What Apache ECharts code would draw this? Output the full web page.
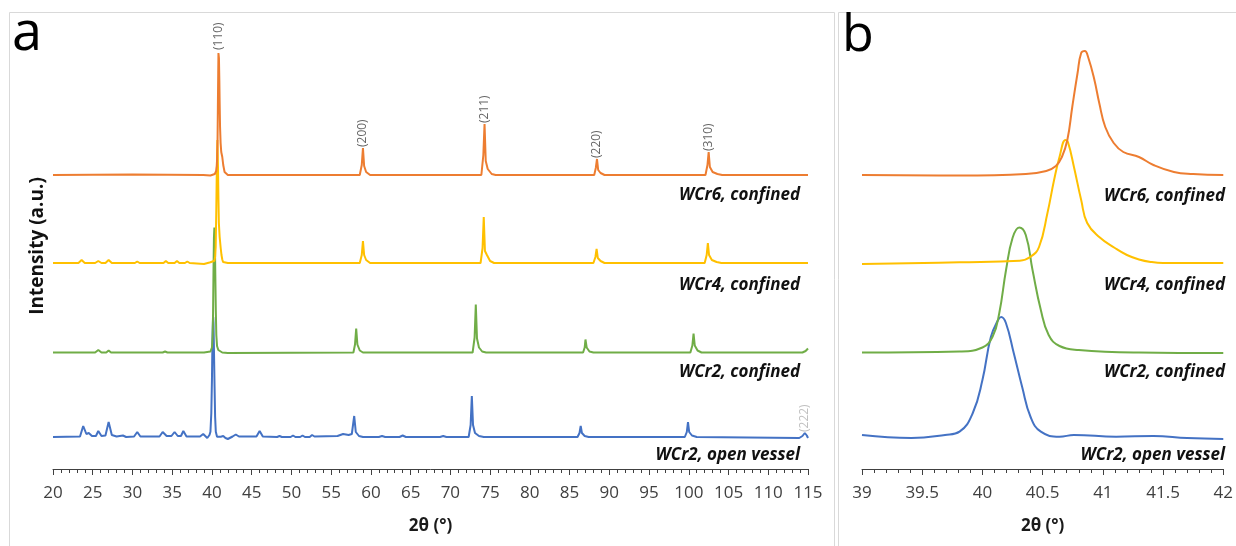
<!DOCTYPE html>
<html>
<head>
<meta charset="utf-8">
<script src="https://cdn.jsdelivr.net/npm/echarts@6/dist/echarts.min.js"></script>
<style>
html,body{margin:0;padding:0;background:#fff;}
#chart{width:1236px;height:546px;}
</style>
</head>
<body>
<div id="chart"></div>
<script>
// ---- Data (2θ in degrees, intensity in a.u. above each pattern's own baseline) ----
var seriesNames = ['WCr2, open vessel', 'WCr2, confined', 'WCr4, confined', 'WCr6, confined'];
var seriesColors = ['#4472C4', '#70AD47', '#FFC000', '#ED7D31'];
// vertical stacking offsets of each pattern (a.u.)
var offsets = [32, 116.5, 206, 294];

// Zoomed (110) region, 39–42°
var wcr2OpenMain = [[39.0,2],[39.41,-1],[39.69,2],[39.81,5.3],[39.92,24],[40.0,57],[40.07,100],[40.13,117],[40.155,120],[40.195,114],[40.26,84],[40.33,50],[40.40,20],[40.485,5.3],[40.64,0.3],[40.76,2],[41.11,0.3],[41.42,1],[41.7,-1],[42.0,-2]];
var wcr2ConfMain = [[39.0,0],[39.81,1],[40.0,5],[40.085,16],[40.14,39.5],[40.196,82.5],[40.25,114.5],[40.306,125],[40.36,117.5],[40.416,82.5],[40.485,42.5],[40.55,17.5],[40.64,6.5],[40.8,2.5],[41.3,0],[42.0,-0.5]];
var wcr4ConfMain = [[39.0,-1],[39.81,0.7],[40.31,2.3],[40.40,6.3],[40.47,16],[40.54,50],[40.595,83],[40.64,106],[40.69,123],[40.71,121],[40.76,96],[40.82,63],[40.87,40],[40.97,26],[41.10,15],[41.20,8],[41.30,3.5],[41.40,1],[41.5,0],[42.0,0]];
var wcr6ConfMain = [[39.0,0],[39.81,-0.5],[40.36,1],[40.53,4],[40.61,9],[40.66,18],[40.705,35],[40.746,68],[40.79,102],[40.82,122],[40.85,124],[40.88,117],[40.93,95],[40.97,72],[41.02,48],[41.09,32],[41.17,23],[41.30,18],[41.42,10],[41.59,3],[41.75,1],[42.0,0]];

// Wide scan, 20–115° (outside the 39–42° window)
var wcr2OpenWide = [[20,0],[23.4,0.5],[23.8,11],[24.2,3],[24.5,4],[24.9,1],[25.4,1],[25.7,6],[26.1,1],[26.6,1.5],[27.0,15],[27.4,2],[28.0,0.5],[28.8,1.5],[29.2,0],[30.2,0.5],[30.6,5],[31.0,0.5],[33.4,0.5],[33.8,5],[34.3,1],[34.9,1],[35.3,5],[35.7,1],[36.1,1],[36.4,6],[36.8,0.5],[38.5,0.5],[38.9,3],
  [42.6,0.5],[43.0,2.5],[43.4,0.5],[45.6,0.5],[46.0,6],[46.4,0.5],[48.2,0],[48.5,1],[48.8,0],[49.9,0],[50.2,1.5],[50.5,0],[51.1,0],[51.4,1.5],[51.7,0],[52.3,0],[52.6,2],[52.9,0.5],[55.8,1],[56.5,3],[57.2,2],[57.6,3],[57.9,21],[58.1,5],[58.5,1],[59.0,0],[61.0,0],[61.4,1],[61.8,0],[63.6,0],[64.0,1.5],[64.4,0],[68.7,0],[69.1,1],[69.5,0],
  [72.3,0],[72.55,12],[72.7,41],[72.85,12],[73.1,4],[73.6,1],[74.2,0],[86.0,0],[86.25,4],[86.4,11],[86.55,4],[86.9,1],[87.4,0],[99.5,0],[99.75,5],[99.9,15],[100.05,5],[100.4,1.5],[101.0,0],[113.9,-1],[114.3,1],[114.6,4],[114.85,1.5],[115,-1]];
var wcr2ConfWide = [[20,0],[25.3,0],[25.7,2.5],[26.1,0],[26.7,0],[27.0,2],[27.3,0],[33.8,0],[34.1,1],[34.4,0],
  [57.8,0],[58.0,8],[58.15,24],[58.3,8],[58.6,2],[59.0,0],[72.8,0],[73.05,15],[73.2,48],[73.35,14],[73.6,5],[74.0,1],[74.5,0],[86.7,0],[86.9,5],[87.0,13],[87.15,5],[87.5,1],[88.0,0],[100.2,0],[100.45,7],[100.6,19],[100.75,7],[101.1,2],[101.6,0],[114.3,0],[114.7,1.5],[115,4]];
var wcr4ConfWide = [[20,0],[23.2,0],[23.6,3],[24.0,0],[25.3,0],[25.7,2],[26.1,0],[26.6,0],[27.0,3],[27.4,0],[30.3,0],[30.6,1.5],[30.9,0],[33.9,0],[34.2,2],[34.5,0],[35.3,0],[35.6,2],[35.9,0],[36.6,0],[36.9,1.5],[37.2,0],
  [43.6,0],[43.8,1],[44.0,0],[46.7,0],[46.9,1.5],[47.1,0],[58.6,0],[58.85,8],[59.0,22],[59.15,8],[59.4,3],[59.9,0],[73.8,0],[74.05,15],[74.2,46],[74.35,12],[74.6,8],[75.0,2],[75.5,0],[88.0,0],[88.25,6],[88.4,14],[88.55,5],[88.9,2],[89.4,0],[102.0,0],[102.25,8],[102.4,20],[102.55,8],[102.9,3],[103.5,1],[104.1,0],[115,0]];
var wcr6ConfWide = [[20,0],[30,0.5],[38.9,0],
  [58.6,0],[58.85,10],[59.0,27],[59.15,9],[59.4,3],[59.9,0],[73.9,0],[74.15,20],[74.3,51],[74.45,14],[74.7,6],[75.2,1],[75.7,0],[88.1,0],[88.3,7],[88.45,16],[88.6,5],[88.9,2],[89.4,0],[102.1,0],[102.35,10],[102.5,23],[102.65,8],[103.0,3],[103.6,1],[104.2,0],[115,0]];

// Reflection labels: position (2θ), intensity of the marked peak, which pattern
var hklLabels = ['(110)', '(200)', '(211)', '(220)', '(310)', '(222)'];
var hklTheta  = [40.85, 59.0, 74.3, 88.45, 102.5, 114.6];
var hklHeight = [124, 27, 51, 16, 23, 4];
var hklSeries = [3, 3, 3, 3, 3, 0];

// Axis ticks
var xTicksA = {min: 20, max: 115, interval: 5};
var xTicksB = {min: 39, max: 42, interval: 0.5};

// ---- Build ----
var mainSets = [wcr2OpenMain, wcr2ConfMain, wcr4ConfMain, wcr6ConfMain];
var wideSets = [wcr2OpenWide, wcr2ConfWide, wcr4ConfWide, wcr6ConfWide];

function shift(arr, off) { return arr.map(function (p) { return [p[0], p[1] + off]; }); }
function mergeFull(wide, main) {
  var out = wide.filter(function (p) { return p[0] < 39 || p[0] > 42; }).concat(main);
  out.sort(function (a, b) { return a[0] - b[0]; });
  return out;
}

var FONT = '"Open Sans", "DejaVu Sans", sans-serif';
var AXC = '#404040';

function xAxisCfg(idx, t, name) {
  return {
    type: 'value', gridIndex: idx, min: t.min, max: t.max, interval: t.interval,
    name: name, nameLocation: 'middle', nameGap: 49,
    nameTextStyle: {fontFamily: FONT, fontSize: 17, fontWeight: 'bold', color: '#1a1a1a'},
    axisLine: {show: true, lineStyle: {color: AXC, width: 1}},
    axisTick: {show: true, inside: false, length: 6, lineStyle: {color: AXC}},
    minorTick: {show: true, splitNumber: 5, length: 4, lineStyle: {color: AXC}},
    axisLabel: {fontFamily: FONT, fontSize: 17, color: AXC, margin: 16, showMinLabel: true, showMaxLabel: true},
    splitLine: {show: false}, minorSplitLine: {show: false}
  };
}
function yAxisCfg(idx) {
  return {
    type: 'value', gridIndex: idx, min: 0, max: 457, show: false
  };
}

var series = [];
for (var i = 0; i < 4; i++) {
  series.push({
    type: 'line', name: seriesNames[i], xAxisIndex: 0, yAxisIndex: 0,
    data: shift(mergeFull(wideSets[i], mainSets[i]), offsets[i]),
    symbol: 'none', smooth: false, lineStyle: {color: seriesColors[i], width: 2}, silent: true,
    z: 2 + i
  });
}
for (var j = 0; j < 4; j++) {
  series.push({
    type: 'line', name: seriesNames[j] + ' (zoom)', xAxisIndex: 1, yAxisIndex: 1,
    data: shift(mainSets[j], offsets[j]),
    symbol: 'none', smooth: 0.45,
    lineStyle: {color: seriesColors[j], width: 2}, silent: true, z: 2 + j
  });
}
// hkl labels
series.push({
  type: 'scatter', xAxisIndex: 0, yAxisIndex: 0, symbolSize: 0, silent: true, z: 10,
  data: hklLabels.map(function (lab, k) {
    return {
      value: [hklTheta[k], hklHeight[k] + offsets[hklSeries[k]]],
      label: {
        show: true, formatter: lab, position: 'top', distance: 1, rotate: 90,
        align: 'left', verticalAlign: 'middle',
        fontFamily: FONT, fontSize: 12,
        color: k === 5 ? '#b0b0b0' : '#404040'
      }
    };
  })
});

function seriesText(xRight, yMid, txt) {
  return {
    type: 'text', x: xRight, y: yMid, silent: true,
    style: {text: txt, align: 'right', verticalAlign: 'middle', fontFamily: FONT,
      fontSize: 17, fontWeight: 'bold', fontStyle: 'italic', fill: '#111'}
  };
}
var labelYs = [455, 372, 285, 195];
var graphics = [
  {type: 'rect', silent: true, shape: {x: 9.5, y: 12.5, width: 825, height: 600}, style: {fill: 'none', stroke: '#d9d9d9', lineWidth: 1}},
  {type: 'rect', silent: true, shape: {x: 838.5, y: 12.5, width: 420, height: 600}, style: {fill: 'none', stroke: '#d9d9d9', lineWidth: 1}},
  {type: 'text', x: 12, y: 62, silent: true, style: {text: 'a', align: 'left', verticalAlign: 'bottom', fontFamily: FONT, fontSize: 54, fill: '#000'}},
  {type: 'text', x: 842, y: 62, silent: true, style: {text: 'b', align: 'left', verticalAlign: 'bottom', fontFamily: FONT, fontSize: 52, fill: '#000'}},
  {type: 'text', x: 38, y: 246, rotation: Math.PI / 2, silent: true,
    style: {text: 'Intensity (a.u.)', align: 'center', verticalAlign: 'middle', fontFamily: FONT, fontSize: 19, fontWeight: 'bold', fill: '#111'}}
];
for (var s = 0; s < 4; s++) {
  graphics.push(seriesText(800, labelYs[s], seriesNames[s]));
  graphics.push(seriesText(1225, labelYs[s] + (s === 3 ? 1 : 0), seriesNames[s]));
}

var chart = echarts.init(document.getElementById('chart'), null, {renderer: 'canvas'});
chart.setOption({
  animation: false,
  backgroundColor: '#ffffff',
  grid: [
    {left: 53, right: 428, top: 12, bottom: 77, containLabel: false},
    {left: 862, right: 12, top: 12, bottom: 77, containLabel: false}
  ],
  xAxis: [xAxisCfg(0, xTicksA, '2θ (°)'), xAxisCfg(1, xTicksB, '2θ (°)')],
  yAxis: [yAxisCfg(0), yAxisCfg(1)],
  series: series,
  graphic: graphics
});
</script>
</body>
</html>
